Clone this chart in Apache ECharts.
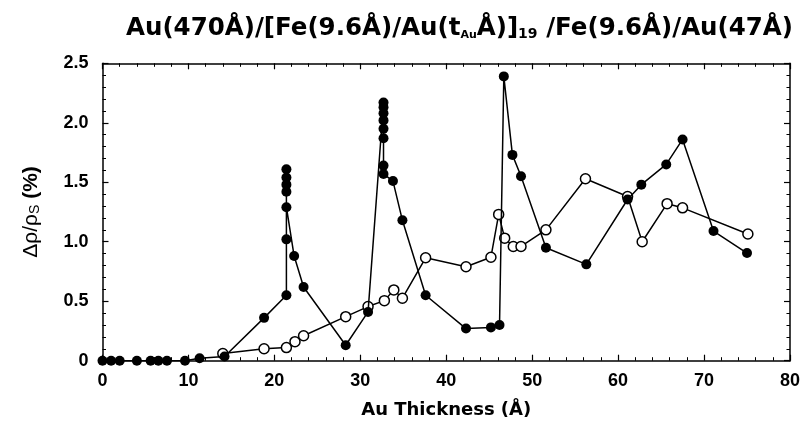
<!DOCTYPE html>
<html>
<head>
<meta charset="utf-8">
<script src="https://cdn.jsdelivr.net/npm/echarts@6/dist/echarts.min.js"></script>
<style>html,body{margin:0;padding:0;background:#fff}#c{width:803px;height:428px}</style>
</head>
<body>
<div id="c"></div>
<script>
// Filled circles (closed symbols)
const filledX = [0.0, 1.0, 2.0, 4.0, 5.6, 6.5, 7.5, 9.6, 11.3, 14.2, 18.8,
  21.4, 21.4, 21.4, 21.4, 21.4, 21.4, 21.4, 22.3, 23.4, 28.3, 30.9,
  32.7, 32.7, 32.7, 32.7, 32.7, 32.7, 32.7, 32.7, 33.8, 34.9, 37.6, 42.3, 45.2, 46.2,
  46.7, 47.7, 48.7, 51.6, 56.3, 61.1, 62.7, 65.6, 67.5, 71.1, 75.0];
const filledY = [0, 0, 0, 0, 0, 0, 0, 0, 0.02, 0.035, 0.36,
  0.55, 1.02, 1.61, 1.54, 1.48, 1.42, 1.29, 0.88, 0.62, 0.13, 0.41,
  2.17, 2.13, 2.08, 2.02, 1.95, 1.87, 1.64, 1.57, 1.51, 1.18, 0.55, 0.27, 0.28, 0.30,
  2.39, 1.73, 1.55, 0.95, 0.81, 1.355, 1.48, 1.65, 1.86, 1.09, 0.905];
// Open circles
const openX = [14.0, 18.8, 21.4, 22.4, 23.4, 28.3, 30.9, 32.8, 33.9, 34.9, 37.6, 42.3, 45.2,
  46.1, 46.8, 47.8, 48.7, 51.6, 56.2, 61.1, 62.8, 65.7, 67.5, 75.1];
const openY = [0.06, 0.10, 0.11, 0.16, 0.21, 0.37, 0.455, 0.505, 0.595, 0.525, 0.865, 0.79, 0.87,
  1.23, 1.03, 0.96, 0.96, 1.10, 1.53, 1.38, 1.00, 1.32, 1.285, 1.065];
const xTicks = {min: 0, max: 80, interval: 10};
const yTicks = {min: 0, max: 2.5, interval: 0.5};

const pair = (xs, ys) => xs.map((x, i) => [x, ys[i]]);
const FONT = '"Liberation Sans", Arial, Helvetica, sans-serif';
const WIDE = '"DejaVu Sans", "Liberation Sans", sans-serif';
const axisCommon = {
  axisLine: {show: true, onZero: false, lineStyle: {color: '#000', width: 1.5}},
  axisTick: {show: true, inside: true, length: 6, lineStyle: {color: '#000', width: 1.2}},
  minorTick: {show: true, splitNumber: 5, length: 3.5, lineStyle: {color: '#000', width: 1}},
  splitLine: {show: false}
};

const chart = echarts.init(document.getElementById('c'), null, {renderer: 'canvas'});
chart.setOption({
  animation: false,
  backgroundColor: '#fff',
  title: {
    left: 121, top: 11,
    text: '{a|Au(470Å)/[Fe(9.6Å)/Au(t}{s|Au}{a|Å)]}{s2|19}{a| /Fe(9.6Å)/Au(47Å)}',
    textStyle: {
      rich: {
        a: {fontFamily: WIDE, fontWeight: 'bold', fontSize: 24.5, color: '#000'},
        s: {fontFamily: WIDE, fontWeight: 'bold', fontSize: 11, color: '#000', verticalAlign: 'bottom', padding: [10, 0, 0, 0]},
        s2: {fontFamily: WIDE, fontWeight: 'bold', fontSize: 14, color: '#000', verticalAlign: 'bottom', padding: [8, 0, 0, 0]}
      }
    }
  },
  grid: {left: 102.5, right: 13, top: 63.3, bottom: 67.3, containLabel: false},
  xAxis: [
    Object.assign({}, axisCommon, {
      type: 'value', position: 'bottom', min: xTicks.min, max: xTicks.max, interval: xTicks.interval,
      axisLabel: {color: '#000', fontFamily: FONT, fontWeight: 'bold', fontSize: 18, margin: 11},
      name: 'Au Thickness (Å)', nameLocation: 'middle', nameGap: 41,
      nameTextStyle: {color: '#000', fontFamily: WIDE, fontWeight: 'bold', fontSize: 18}
    }),
    Object.assign({}, axisCommon, {
      type: 'value', position: 'top', min: xTicks.min, max: xTicks.max, interval: xTicks.interval,
      axisLabel: {show: false}
    })
  ],
  yAxis: [
    Object.assign({}, axisCommon, {
      type: 'value', position: 'left', min: yTicks.min, max: yTicks.max, interval: yTicks.interval,
      axisLabel: {color: '#000', fontFamily: FONT, fontWeight: 'bold', fontSize: 18, margin: 14,
        formatter: v => v === 0 ? '0' : v.toFixed(1)},
      name: '{n|Δρ/ρ}{sub|S}{b| (%)}', nameLocation: 'middle', nameGap: 60, nameRotate: 90,
      nameTextStyle: {
        rich: {
          n: {fontFamily: FONT, fontSize: 21, color: '#000'},
          sub: {fontFamily: FONT, fontSize: 14, color: '#000', verticalAlign: 'bottom', padding: [9, 0, 0, 0]},
          b: {fontFamily: FONT, fontWeight: 'bold', fontSize: 21, color: '#000'}
        }
      }
    }),
    Object.assign({}, axisCommon, {
      type: 'value', position: 'right', min: yTicks.min, max: yTicks.max, interval: yTicks.interval,
      axisLabel: {show: false}
    })
  ],
  series: [
    {
      type: 'line', xAxisIndex: 0, yAxisIndex: 0, data: pair(openX, openY),
      symbol: 'circle', symbolSize: 10, showAllSymbol: true, z: 2,
      lineStyle: {color: '#000', width: 1.5},
      itemStyle: {color: '#fff', borderColor: '#000', borderWidth: 1.5}
    },
    {
      type: 'line', xAxisIndex: 0, yAxisIndex: 0, data: pair(filledX, filledY),
      symbol: 'circle', symbolSize: 10, showAllSymbol: true, z: 3,
      lineStyle: {color: '#000', width: 1.5},
      itemStyle: {color: '#000', borderColor: '#000', borderWidth: 0}
    }
  ]
});
</script>
</body>
</html>
